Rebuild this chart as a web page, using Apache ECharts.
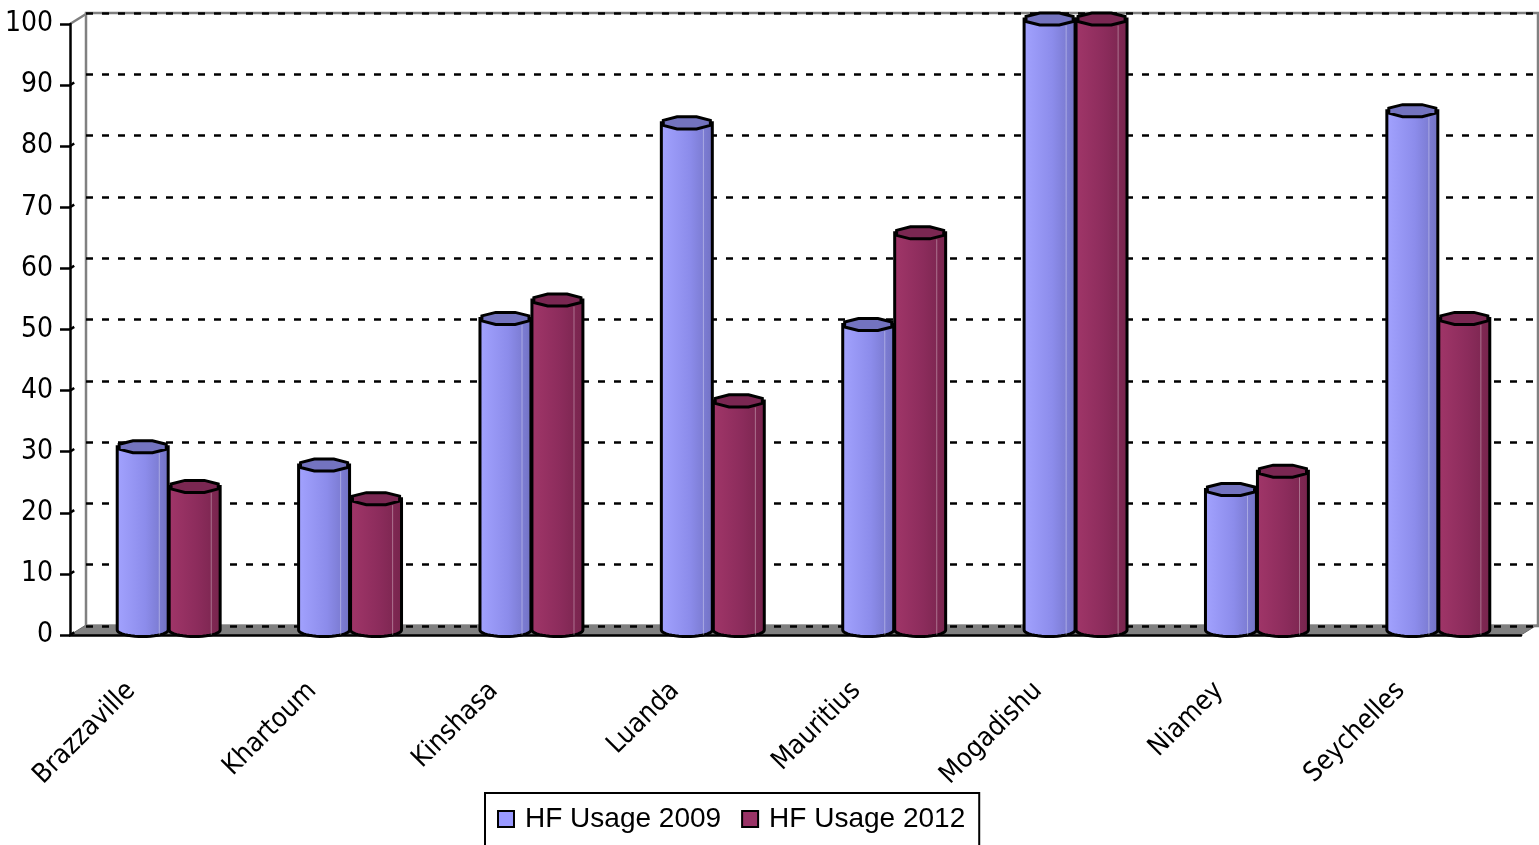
<!DOCTYPE html>
<html>
<head>
<meta charset="utf-8">
<script src="https://cdn.jsdelivr.net/npm/echarts@6/dist/echarts.min.js"></script>
<style>
html,body{margin:0;padding:0;background:#fff;}
#chart{width:1539px;height:845px;}
</style>
</head>
<body>
<div id="chart"></div>
<script>
const categories = ['Brazzaville','Khartoum','Kinshasa','Luanda','Mauritius','Mogadishu','Niamey','Seychelles'];
const usage2009 = [30, 27, 51, 83, 50, 100, 23, 85];
const usage2012 = [23.5, 21.5, 54, 37.5, 65, 100, 26, 51];
const yTicks = [0,10,20,30,40,50,60,70,80,90,100];

const DEPTH_X = 16, DEPTH_Y = -10;
const FONT = '"Liberation Sans Narrow","DejaVu Sans Condensed","Liberation Sans",sans-serif';

function makeBarRender(side, colors) {
  return function (params, api) {
    const idx = api.value(0);
    const val = api.value(1);
    const p0 = api.coord([idx, 0]);
    const pv = api.coord([idx, val]);
    const catW = api.size([1, 0])[0];
    const bw = catW * 0.281;
    const rx = bw / 2, ry = 6.5;
    const cx = p0[0] + DEPTH_X / 2 + side * (rx + 0.5);
    const cyTop = pv[1] + DEPTH_Y / 2;
    const cyBot = p0[1] + DEPTH_Y / 2;
    const bottomArc = [];
    for (let k = 0; k <= 20; k++) {
      const a = Math.PI - Math.PI * k / 20;
      bottomArc.push([cx + rx * Math.cos(a), cyBot + ry * Math.sin(a)]);
    }
    const bodyPts = [[cx - rx, cyTop]].concat(bottomArc).concat([[cx + rx, cyTop]]);
    const top = [];
    const n = 8;
    for (let k = 0; k < n; k++) {
      const a = Math.PI / n + 2 * Math.PI * k / n;
      top.push([cx + rx * Math.cos(a), cyTop + ry * Math.sin(a)]);
    }
    return {
      type: 'group',
      children: [
        {
          type: 'polygon',
          shape: { points: bodyPts },
          style: {
            fill: new echarts.graphic.LinearGradient(0, 0, 1, 0, [
              { offset: 0, color: colors.l },
              { offset: 0.55, color: colors.m },
              { offset: 1, color: colors.r }
            ]),
            stroke: '#000', lineWidth: 3
          }
        },
        {
          type: 'line',
          shape: { x1: cx + rx * 0.65, y1: cyTop + ry, x2: cx + rx * 0.65, y2: cyBot + ry * 0.75 },
          style: { stroke: 'rgba(255,255,255,0.35)', lineWidth: 1 }
        },
        {
          type: 'polygon',
          shape: { points: top },
          style: { fill: colors.t, stroke: '#000', lineWidth: 3 }
        }
      ]
    };
  };
}

function renderFrame(params, api) {
  const cs = params.coordSys;
  const x0 = cs.x, x1 = cs.x + cs.width, yb = cs.y + cs.height;
  const children = [{
    type: 'polygon',
    shape: { points: [[x0, yb], [x1, yb], [x1 + DEPTH_X, yb + DEPTH_Y], [x0 + DEPTH_X, yb + DEPTH_Y]] },
    style: { fill: '#808080', stroke: '#6a6a6a', lineWidth: 1 }
  }];
  yTicks.forEach(function (t) {
    const p = api.coord([0, t]);
    const top = t === yTicks[yTicks.length - 1];
    children.push({
      type: 'line',
      shape: { x1: x0, y1: p[1], x2: x0 + DEPTH_X, y2: p[1] + DEPTH_Y },
      style: top ? { stroke: '#808080', lineWidth: 2.5 } : { stroke: '#000', lineWidth: 2.5, lineDash: [5, 20] }
    });
  });
  return { type: 'group', children: children };
}

const chart = echarts.init(document.getElementById('chart'));
chart.setOption({
  backgroundColor: '#fff',
  animation: false,
  grid: [
    { left: 86, right: 1, top: 13, bottom: 219, show: true, borderColor: '#808080', borderWidth: 2.5, backgroundColor: 'transparent' },
    { left: 70, right: 18, top: 24, bottom: 210 }
  ],
  xAxis: [
    { gridIndex: 0, type: 'category', data: categories, show: false },
    {
      gridIndex: 1, type: 'category', data: categories,
      axisLine: { lineStyle: { color: '#000', width: 2.5 } },
      axisTick: { length: 14, lineStyle: { color: '#000', width: 2.5 } },
      axisLabel: { rotate: 45, fontSize: 27, fontFamily: FONT, color: '#000', margin: 22, padding: [0, 42, 0, 0] }
    }
  ],
  yAxis: [
    {
      gridIndex: 0, type: 'value', min: 0, max: 100, interval: 10,
      axisLine: { show: false }, axisTick: { show: false }, axisLabel: { show: false },
      splitLine: { show: true, lineStyle: { color: '#000', width: 2.5, type: [7, 9] } }
    },
    {
      gridIndex: 1, type: 'value', min: 0, max: 100, interval: 10,
      axisLine: { show: true, lineStyle: { color: '#000', width: 2.5 } },
      axisTick: { show: true, length: 10, lineStyle: { color: '#000', width: 2.5 } },
      axisLabel: { fontSize: 28, fontFamily: FONT, color: '#000', margin: 17 },
      splitLine: { show: false }
    }
  ],
  legend: {
    data: ['HF Usage 2009', 'HF Usage 2012'],
    left: 485, top: 793,
    padding: [12, 14, 30, 12],
    itemWidth: 16, itemHeight: 16, itemGap: 20,
    borderColor: '#000', borderWidth: 2,
    textStyle: { fontSize: 28, fontFamily: '"Liberation Sans",Arial,sans-serif', color: '#000', padding: [0, 0, 0, 6] },
    icon: 'rect'
  },
  series: [
    {
      name: 'frame', type: 'custom', xAxisIndex: 1, yAxisIndex: 1, z: -1, silent: true,
      data: [[0, 0]], renderItem: renderFrame
    },
    {
      name: 'HF Usage 2009', type: 'custom', xAxisIndex: 1, yAxisIndex: 1, z: 3,
      itemStyle: { color: '#9999FF', borderColor: '#000', borderWidth: 2 },
      data: usage2009.map((v, i) => [i, v]),
      renderItem: makeBarRender(-1, { l: '#A3A3FF', m: '#8C8CEB', r: '#7171C2', t: '#7373BF' })
    },
    {
      name: 'HF Usage 2012', type: 'custom', xAxisIndex: 1, yAxisIndex: 1, z: 3,
      itemStyle: { color: '#993366', borderColor: '#000', borderWidth: 2 },
      data: usage2012.map((v, i) => [i, v]),
      renderItem: makeBarRender(1, { l: '#A13669', m: '#8C2C5C', r: '#76244C', t: '#7A2752' })
    }
  ]
});
</script>
</body>
</html>
